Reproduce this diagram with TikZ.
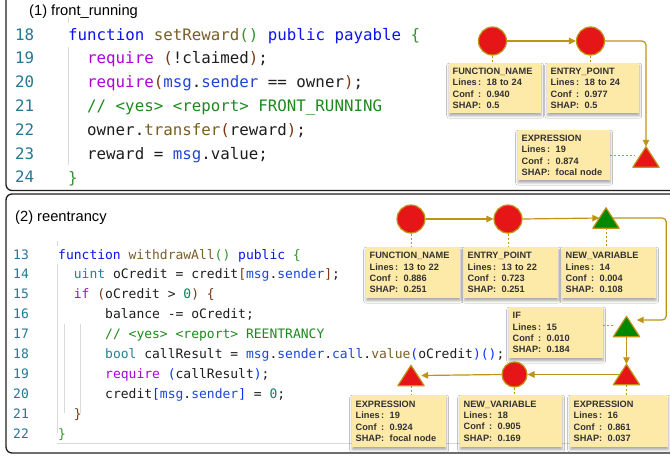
\documentclass[tikz,border=0pt]{standalone}
\usepackage{fontspec}
\setmainfont{Liberation Sans}
\newfontfamily\codefont{DejaVu Sans Mono}
\usetikzlibrary{arrows.meta,shadows.blur}

% editor palette
\definecolor{lnum}{HTML}{237893}
\definecolor{kwblue}{HTML}{0A14F0}
\definecolor{fnbrown}{HTML}{795E26}
\definecolor{ctlpurple}{HTML}{AF00DB}
\definecolor{typeteal}{HTML}{267F99}
\definecolor{msgblue}{HTML}{1F45D8}
\definecolor{cmgreen}{HTML}{1E8A1E}
\definecolor{brgreen}{HTML}{319331}
\definecolor{brbrown}{HTML}{7B3814}
\definecolor{brblue}{HTML}{0431FA}
\definecolor{numgreen}{HTML}{098658}
\definecolor{codeblack}{HTML}{1E1E1E}
\definecolor{guidegray}{RGB}{218,218,218}
% graph palette
\definecolor{edgegold}{RGB}{190,148,22}
\definecolor{nodered}{RGB}{230,22,24}
\definecolor{nodegreen}{RGB}{0,136,0}
\definecolor{labelfill}{RGB}{253,233,168}
\definecolor{labeltext}{RGB}{50,50,50}

% token colouring
\newcommand\Kw[1]{\textcolor{kwblue}{#1}}
\newcommand\Fn[1]{\textcolor{fnbrown}{#1}}
\newcommand\Ct[1]{\textcolor{ctlpurple}{#1}}
\newcommand\Ty[1]{\textcolor{typeteal}{#1}}
\newcommand\Mv[1]{\textcolor{msgblue}{#1}}
\newcommand\Cm[1]{\textcolor{cmgreen}{#1}}
\newcommand\Bg[1]{\textcolor{brgreen}{#1}}
\newcommand\Bb[1]{\textcolor{brbrown}{#1}}
\newcommand\Bl[1]{\textcolor{brblue}{#1}}
\newcommand\Nm[1]{\textcolor{numgreen}{#1}}

% one "key : value" row of an info box
\newcommand\fld[2]{\makebox[25.5pt][l]{#1}\makebox[8.5pt][l]{:}#2}
% info box: name, corner, width, text width, height, title, lines, conf, shap
\newcommand\infobox[9]{%
  \node[infolabel, text width=#4pt, minimum height=#5pt] (#1) at #2
    {#6\\\fld{Lines}{#7}\\\fld{Conf}{#8}\\\fld{SHAP}{#9}};}
% triangle marker: name, centre, fill colour
\newcommand\trinode[3]{%
  \node[tribox] (#1) at #2 {};
  \filldraw[trishape, fill=#3] (#1.south west) -- (#1.north) -- (#1.south east) -- cycle;}

\begin{document}
\begin{tikzpicture}[x=1pt, y=-1pt,
  panel/.style={draw=black!88, line width=1.3pt, rounded corners=6pt},
  guide/.style={draw=guidegray, line width=0.8pt},
  title/.style={anchor=base west, inner sep=0pt, font=\fontsize{14.7}{17}\selectfont},
  code1/.style={anchor=base west, inner sep=0pt, text=codeblack, font=\codefont\fontsize{15.8}{18}\selectfont},
  code2/.style={anchor=base west, inner sep=0pt, text=codeblack, font=\codefont\fontsize{13}{15}\selectfont},
  circ/.style={circle, minimum size=28pt, inner sep=0pt, fill=nodered, draw=edgegold, line width=1.2pt},
  tribox/.style={rectangle, minimum width=26pt, minimum height=20pt, inner sep=0pt},
  trishape/.style={draw=edgegold, line width=1.2pt, line join=round},
  infolabel/.style={rectangle, anchor=north west, fill=labelfill, inner xsep=3.5pt, inner ysep=0pt,
    align=left, text=labeltext, font=\fontsize{9.2}{11.3}\selectfont\bfseries,
    blur shadow={shadow xshift=0pt, shadow yshift=-2.5pt, shadow opacity=35, shadow blur radius=2.5pt}},
  flow/.style={draw=edgegold, line width=1.2pt, -{Triangle[length=7pt,width=6.5pt]}},
  link/.style={draw=edgegold, line width=1pt, dash pattern=on 2pt off 2pt}]

\useasboundingbox (0,0) rectangle (670,458);
\clip (0,0) rectangle (670,458);
\fill[white] (0,0) rectangle (670,458);

% ---------- panel frames ----------
\draw[panel] (6,-8) rectangle (690,190.5);
\draw[panel] (6,194) rectangle (690,453);

% ---------- panel (1): code ----------
\node[title] (title1) at (29,15.5) {(1) front\_running};
\draw[guide] (68,17) -- (68,23);
\draw[guide] (68,47) -- (68,165);
\foreach \n [count=\i from 0] in {18,...,24}
  \node[code1, text=lnum] (n1-\n) at (15,{40+23.83*\i}) {\n};
\node[code1] (s18) at (68,40) {\Kw{function} \Fn{setReward}\Bg{()} \Kw{public} \Kw{payable} \Bg{\{}};
\node[code1] (s19) at (87,63.83) {\Ct{require} \Bb{(}!claimed\Bb{)};};
\node[code1] (s20) at (87,87.66) {\Ct{require}\Bb{(}\Mv{msg}.\Mv{sender} == owner\Bb{)};};
\node[code1] (s21) at (87,111.5) {\Cm{// <yes> <report> FRONT\_RUNNING}};
\node[code1] (s22) at (87,135.3) {owner.\Fn{transfer}\Bb{(}reward\Bb{)};};
\node[code1] (s23) at (87,159.2) {reward = \Mv{msg}.value;};
\node[code1] (s24) at (68,183) {\Bg{\}}};

% ---------- panel (1): graph ----------
\node[circ] (fn1) at (492.5,41) {};
\node[circ] (ep1) at (590.5,41) {};
\trinode{ex1}{(646,157)}{nodered}
\infobox{lfn1}{(449,63)}{92}{85}{50}{FUNCTION\_NAME}{18 to 24}{0.940}{0.5}
\infobox{lep1}{(547,63)}{92}{85}{50}{ENTRY\_POINT}{18 to 24}{0.977}{0.5}
\infobox{lex1}{(518,130)}{92}{85}{50}{EXPRESSION}{19}{0.874}{focal node}
\draw[flow] (fn1.east) -- (ep1.west);
\draw[flow, rounded corners=4pt] (ep1.east) -| (ex1.north);
\draw[link] (fn1.south) -- (fn1.south |- lfn1.north);
\draw[link] (ep1.south) -- (ep1.south |- lep1.north);
\draw[link] (lex1.east) -- ([xshift=2pt]lex1.east -| ex1.west);

% ---------- panel (2): code ----------
\node[title] (title2) at (15,221) {(2) reentrancy};
\draw[guide] (57,241) -- (57,246);
\draw[guide] (57,264) -- (57,433);
\draw[guide] (64,324) -- (64,413);
\draw[guide] (80,324) -- (80,413);
\draw[guide] (57,443) -- (570,443);
\foreach \n [count=\i from 0] in {13,...,22}
  \node[code2, text=lnum] (n2-\n) at (13,{259+19.89*\i}) {\n};
\node[code2] (t13) at (58,259) {\Kw{function} \Fn{withdrawAll}\Bg{()} \Kw{public} \Bg{\{}};
\node[code2] (t14) at (73.7,278.9) {\Ty{uint} oCredit = credit\Bb{[}\Mv{msg}.\Mv{sender}\Bb{]};};
\node[code2] (t15) at (73.7,298.8) {\Ct{if} \Bb{(}oCredit > \Nm{0}\Bb{)} \Bb{\{}};
\node[code2] (t16) at (105,318.7) {balance -= oCredit;};
\node[code2] (t17) at (105,338.6) {\Cm{// <yes> <report> REENTRANCY}};
\node[code2] (t18) at (105,358.5) {\Ty{bool} callResult = \Mv{msg}.\Mv{sender}.\Mv{call}.\Fn{value}\Bl{(}oCredit\Bl{)}\Bl{()};};
\node[code2] (t19) at (105,378.3) {\Ct{require} \Bl{(}callResult\Bl{)};};
\node[code2] (t20) at (105,398.2) {credit\Bl{[}\Mv{msg}.\Mv{sender}\Bl{]} = \Nm{0};};
\node[code2] (t21) at (73.7,418.1) {\Bb{\}}};
\node[code2] (t22) at (58,438) {\Bg{\}}};

% ---------- panel (2): graph ----------
\node[circ] (fn2) at (411,219) {};
\node[circ] (ep2) at (508,219) {};
\trinode{nv2}{(606,218)}{nodegreen}
\trinode{if2}{(626.5,326.5)}{nodegreen}
\trinode{ex16}{(626.5,374.5)}{nodered}
\node[circ, minimum size=25pt] (nv18) at (514.5,374.5) {};
\trinode{ex19}{(411,375.5)}{nodered}

\infobox{lfn2}{(366,247)}{94}{87}{51}{FUNCTION\_NAME}{13 to 22}{0.886}{0.251}
\infobox{lep2}{(464,247)}{94}{87}{51}{ENTRY\_POINT}{13 to 22}{0.723}{0.251}
\infobox{lnv2}{(562,247)}{94}{87}{51}{NEW\_VARIABLE}{14}{0.004}{0.108}
\infobox{lif}{(509,307)}{94}{87}{51}{IF}{15}{0.010}{0.184}
\infobox{lex19}{(352,395)}{94}{87}{52}{EXPRESSION}{19}{0.924}{focal node}
\infobox{lnv18}{(460,395)}{102}{95}{52}{NEW\_VARIABLE}{18}{0.905}{0.169}
\infobox{lex16}{(570,395)}{98}{91}{52}{EXPRESSION}{16}{0.861}{0.037}

\draw[flow] (fn2.east) -- (ep2.west);
\draw[flow] (ep2.east) -- ([xshift=6.5pt]nv2.west);
\draw[flow, rounded corners=4pt] ([xshift=-6.5pt]nv2.east) -- ([xshift=47pt]nv2.east)
  |- ([xshift=-3pt,yshift=6.5pt]if2.east);
\draw[flow] (if2.south) -- (ex16.north);
\draw[flow] ([xshift=6.5pt]ex16.west) -- (nv18.east);
\draw[flow] (nv18.west) -- ([xshift=-3pt]ex19.east);

\draw[link] (fn2.south) -- (fn2.south |- lfn2.north);
\draw[link] (ep2.south) -- (ep2.south |- lep2.north);
\draw[link] (nv2.south) -- (nv2.south |- lnv2.north);
\draw[link] ([yshift=7.5pt]lif.east) -- ([yshift=7.5pt]lif.east -| if2.west);
\draw[link] (ex19.south) -- (ex19.south |- lex19.north);
\draw[link] (nv18.south) -- (nv18.south |- lnv18.north);
\draw[link] (ex16.south) -- (ex16.south |- lex16.north);

\end{tikzpicture}
\end{document}
